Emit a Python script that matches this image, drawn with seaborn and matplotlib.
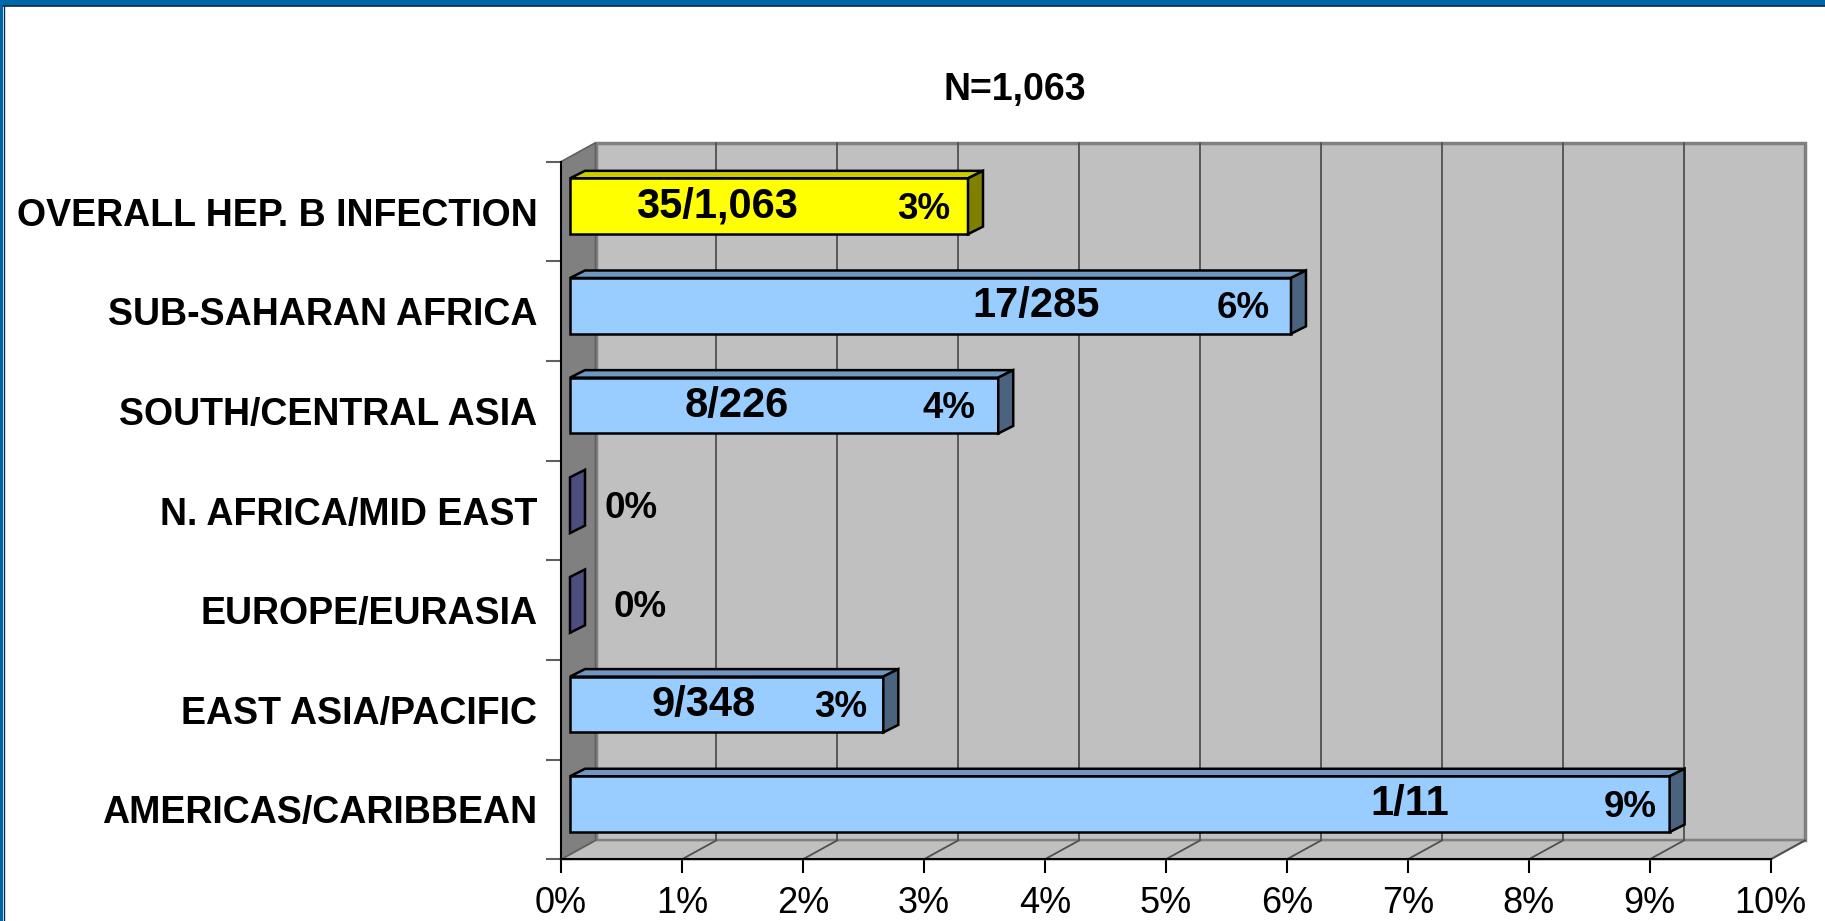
import numpy as np
import pandas as pd
import matplotlib
matplotlib.use('Agg')
import matplotlib.pyplot as plt
from matplotlib.patches import Polygon, Rectangle
from matplotlib.lines import Line2D
import seaborn as sns

# data
regions = ['OVERALL HEP. B INFECTION', 'SUB-SAHARAN AFRICA', 'SOUTH/CENTRAL ASIA',
           'N. AFRICA/MID EAST', 'EUROPE/EURASIA', 'EAST ASIA/PACIFIC', 'AMERICAS/CARIBBEAN']
pct = [3.29, 5.96, 3.54, 0.0, 0.0, 2.59, 9.09]
ratio_labels = ['35/1,063', '17/285', '8/226', '', '', '9/348', '1/11']
pct_labels = ['3%', '6%', '4%', '0%', '0%', '3%', '9%']
x_ticks = list(range(11))
title = 'N=1,063'

# where the labels sit inside the bars (in % units)
ratio_x = [1.29, 3.93, 1.45, 0, 0, 1.18, 7.02]
pct_x = [3.00, 5.64, 3.21, 0.58, 0.65, 2.31, 8.84]

face_colors = ['#FFFF00'] + ['#99CCFF'] * 6
top_colors = ['#CCCC00'] + ['#6E98C2'] * 6
side_colors = ['#808000', '#4A6480', '#4A6480', '#4D4D80', '#4D4D80', '#4A6480', '#4A6480']

sns.set_style('white')
plt.rcParams['font.family'] = ['Liberation Sans', 'DejaVu Sans']
plt.rcParams['text.color'] = 'black'
plt.rcParams['xtick.labelcolor'] = 'black'
plt.rcParams['ytick.labelcolor'] = 'black'

W, H = 1825, 921
fig = plt.figure(figsize=(W / 100, H / 100), dpi=100)
ax_l, ax_top, ax_r, ax_bot = 561, 161.7, 1770.7, 859.3
ax = fig.add_axes([ax_l / W, 1 - ax_bot / H, (ax_r - ax_l) / W, (ax_bot - ax_top) / H])
ax.set_facecolor('none')

df = pd.DataFrame({'region': regions, 'pct': pct})
sns.barplot(data=df, x='pct', y='region', hue='region', palette=face_colors,
            width=0.56, orient='h', ax=ax, legend=False, saturation=1,
            edgecolor='black', linewidth=1.8, zorder=4)
ax.set_xlim(0, 10)
ax.set_ylim(6.5, -0.5)

# pixel -> data conversion for the fake 3d depth
sx = (ax_r - ax_l) / 10
sy = (ax_bot - ax_top) / 7
Dx, Dy = 34.5 / sx, -19 / sy      # full depth of the box
fx, fy = 9 / sx, -5.3 / sy        # bar front face
bx, by = 15 / sx, -7.5 / sy       # bar depth

# walls and floor
y0, y1 = -0.5, 6.5
ax.add_patch(Polygon([(Dx, y0 + Dy), (10 + Dx, y0 + Dy), (10 + Dx, y1 + Dy), (Dx, y1 + Dy)],
                     closed=True, facecolor='#C0C0C0', edgecolor='#808080', lw=2.5,
                     zorder=0.5, clip_on=False))
ax.add_patch(Polygon([(0, y1), (10, y1), (10 + Dx, y1 + Dy), (Dx, y1 + Dy)],
                     closed=True, facecolor='#C0C0C0', edgecolor='#808080', lw=1.5,
                     zorder=0.6, clip_on=False))
for k in x_ticks[1:10]:
    ax.add_line(Line2D([k + Dx, k + Dx], [y1 + Dy, y0 + Dy], color='#505050', lw=1.3,
                       zorder=0.7, clip_on=False))
for k in x_ticks[1:]:
    ax.add_line(Line2D([k, k + Dx], [y1, y1 + Dy], color='#505050', lw=1.3,
                       zorder=0.7, clip_on=False))
ax.add_patch(Polygon([(0, y0), (Dx, y0 + Dy), (Dx, y1 + Dy), (0, y1)],
                     closed=True, facecolor='#808080', edgecolor='#606060', lw=1.2,
                     zorder=0.8, clip_on=False))

# 3d faces on the bars
for p in ax.patches[:]:
    if not isinstance(p, Rectangle):
        continue
    i = int(round(p.get_y() + p.get_height() / 2))
    p.set_x(p.get_x() + fx)
    p.set_y(p.get_y() + fy)
    xa, xb = p.get_x(), p.get_x() + p.get_width()
    yt, yb = p.get_y(), p.get_y() + p.get_height()
    if p.get_width() > 0:
        ax.add_patch(Polygon([(xa, yt), (xb, yt), (xb + bx, yt + by), (xa + bx, yt + by)],
                             closed=True, facecolor=top_colors[i], edgecolor='black',
                             lw=1.8, zorder=3.9, clip_on=False))
    ax.add_patch(Polygon([(xb, yt), (xb + bx, yt + by), (xb + bx, yb + by), (xb, yb)],
                         closed=True, facecolor=side_colors[i], edgecolor='black',
                         lw=1.8, zorder=4.1, clip_on=False))

# labels in the bars
for i in range(len(regions)):
    if ratio_labels[i]:
        ax.text(ratio_x[i], i + fy, ratio_labels[i], ha='center', va='center',
                fontsize=30, fontweight='bold', zorder=6)
    ax.text(pct_x[i], i + fy + 0.03, pct_labels[i], ha='center', va='center',
            fontsize=26.5, fontweight='bold', zorder=6)

# axes
ax.set_xlabel('')
ax.set_ylabel('')
ax.set_xticks(x_ticks)
ax.set_xticklabels([f'{t}%' for t in x_ticks], fontsize=26)
ax.tick_params(axis='x', length=10, width=1.5, color='black', pad=9, direction='out',
               bottom=True)
ax.set_yticks(range(len(regions)))
ax.set_yticklabels(regions, fontsize=27, fontweight='bold')
ax.set_yticks(np.arange(-0.5, 7, 1), minor=True)
ax.tick_params(axis='y', which='major', length=0, pad=17)
ax.tick_params(axis='y', which='minor', length=11, width=1.5, color='#606060',
               direction='out', left=True)
for s in ['top', 'right']:
    ax.spines[s].set_visible(False)
for s in ['left', 'bottom']:
    ax.spines[s].set_color('black')
    ax.spines[s].set_linewidth(1.5)
    ax.spines[s].set_zorder(5)

fig.text(1015 / W, 1 - 89.6 / H, title, ha='center', va='center',
         fontsize=27, fontweight='bold')

# slide frame
fig.add_artist(Rectangle((0, 1 - 6 / H), 1, 6 / H, transform=fig.transFigure,
                         facecolor='#0066AA', edgecolor='none'))
fig.add_artist(Line2D([3 / W, 1], [1 - 6.5 / H, 1 - 6.5 / H], transform=fig.transFigure,
                      color='#0B2A4A', lw=1.2))
fig.add_artist(Rectangle((0, 0), 3 / W, 1, transform=fig.transFigure,
                         facecolor='#0066AA', edgecolor='none'))
fig.add_artist(Line2D([3.5 / W, 3.5 / W], [0, 1 - 6 / H], transform=fig.transFigure,
                      color='#0B2A4A', lw=1.0))

fig.savefig('out.png', dpi=100)
